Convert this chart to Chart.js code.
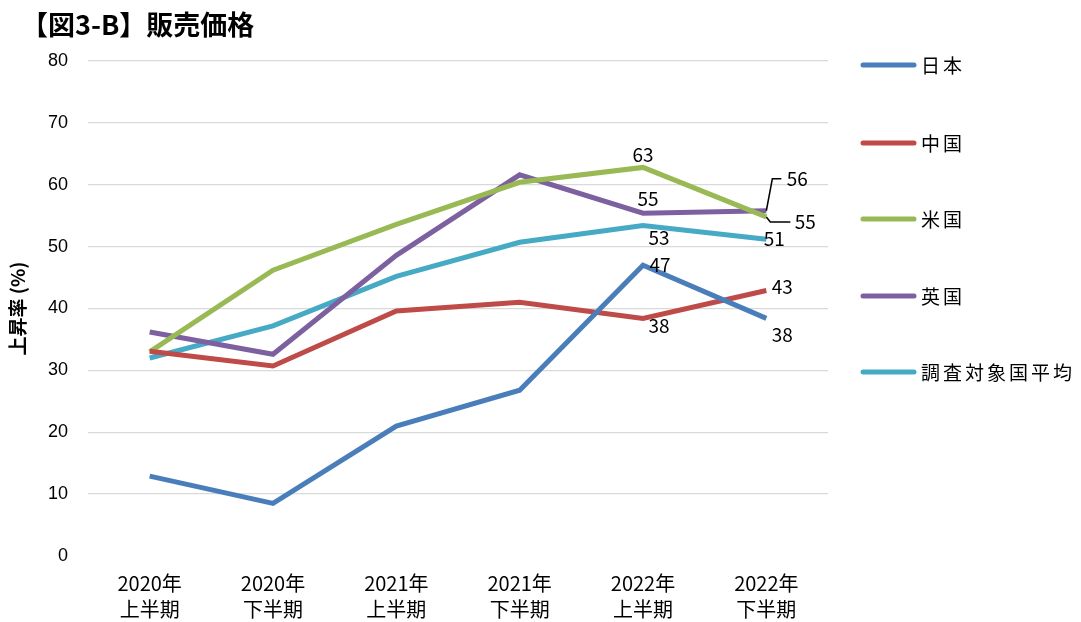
<!DOCTYPE html>
<html lang="ja">
<head>
<meta charset="UTF-8">
<title>販売価格</title>
<script src="https://cdn.jsdelivr.net/npm/chart.js"></script>
<style>
    body { margin: 0; background: #ffffff; }
    #wrap { width: 1081px; height: 622px; }
</style>
</head>
<body>
<div id="wrap"><canvas id="chart" width="1081" height="622"></canvas></div>
<script>
// data
const periods = [['2020年', '上半期'], ['2020年', '下半期'], ['2021年', '上半期'], ['2021年', '下半期'], ['2022年', '上半期'], ['2022年', '下半期']];
const japan   = [12.9, 8.5, 21.0, 26.8, 47.0, 38.4];
const china   = [33.1, 30.7, 39.6, 41.0, 38.4, 42.9];
const usa     = [33.0, 46.2, 53.6, 60.4, 62.8, 54.8];
const uk      = [36.2, 32.6, 48.6, 61.6, 55.4, 55.8];
const average = [32.0, 37.2, 45.2, 50.7, 53.4, 51.2];
const seriesNames = ['日本', '中国', '米国', '英国', '調査対象国平均'];
const yTicks = [0, 10, 20, 30, 40, 50, 60, 70, 80];

const colors = ['#4a7ebb', '#be4b48', '#98b954', '#7d60a0', '#46aac5'];
const JP = '"Noto Sans CJK JP", "Noto Sans", sans-serif';

// label placement for the last two points: [dataset, index, dx, dy, leader]
const labelSpots = [
    [2, 4, 0, -13, null],
    [3, 4, 5, -14, null],
    [4, 4, 16, 12, null],
    [0, 4, 17, 0, null],
    [1, 4, 16, 7, null],
    [3, 5, 31, -32, [[0, 0], [6, -32], [15, -32]]],
    [2, 5, 39, 5, [[0, 0], [4, 5], [24, 5]]],
    [4, 5, 8, 0, null],
    [1, 5, 16, -4, null],
    [0, 5, 16, 16, null]
];

const extras = {
    id: 'extras',
    afterDraw(chart) {
        const ctx = chart.ctx;
        ctx.save();
        // title
        ctx.fillStyle = '#000';
        ctx.font = 'bold 27px ' + JP;
        ctx.textAlign = 'left';
        ctx.textBaseline = 'middle';
        ctx.fillText('【図3-B】販売価格', 21, 25);

        // legend
        ctx.font = '19px ' + JP;
        ctx.letterSpacing = '3px';
        const legendY = [65, 143, 219, 296, 372];
        seriesNames.forEach((name, i) => {
            ctx.strokeStyle = colors[i];
            ctx.lineWidth = 5;
            ctx.lineCap = 'round';
            ctx.beginPath();
            ctx.moveTo(863, legendY[i]);
            ctx.lineTo(914, legendY[i]);
            ctx.stroke();
            ctx.fillStyle = '#000';
            ctx.fillText(name, 921, legendY[i] + 1);
        });
        ctx.letterSpacing = '0px';

        // data labels
        ctx.font = '19px ' + JP;
        ctx.textAlign = 'center';
        labelSpots.forEach(([ds, idx, dx, dy, leader]) => {
            const pt = chart.getDatasetMeta(ds).data[idx];
            const v = chart.data.datasets[ds].data[idx];
            if (leader) {
                ctx.strokeStyle = '#000';
                ctx.lineWidth = 1.5;
                ctx.lineCap = 'butt';
                ctx.beginPath();
                leader.forEach(([lx, ly], k) => {
                    if (k === 0) ctx.moveTo(pt.x + lx, pt.y + ly);
                    else ctx.lineTo(pt.x + lx, pt.y + ly);
                });
                ctx.stroke();
            }
            ctx.fillStyle = '#000';
            ctx.fillText(String(Math.round(v)), pt.x + dx, pt.y + dy);
        });
        ctx.restore();
    }
};

const allSeries = [japan, china, usa, uk, average];

new Chart(document.getElementById('chart'), {
    type: 'line',
    data: {
        labels: periods,
        datasets: allSeries.map((vals, i) => ({
            label: seriesNames[i],
            data: vals,
            borderColor: colors[i],
            backgroundColor: colors[i],
            borderWidth: 5,
            pointRadius: 0,
            pointHoverRadius: 0,
            tension: 0,
            fill: false
        }))
    },
    options: {
        responsive: false,
        animation: false,
        layout: { padding: { top: 61, right: 253, left: 0, bottom: 0 } },
        plugins: {
            legend: { display: false },
            title: { display: false },
            tooltip: { enabled: false }
        },
        scales: {
            x: {
                offset: true,
                grid: { display: false },
                border: { display: false },
                ticks: {
                    color: '#000',
                    font: { family: JP, size: 20, lineHeight: 1.3 },
                    padding: 6,
                    maxRotation: 0
                },
                afterFit(scale) { scale.height = 66; }
            },
            y: {
                min: 0,
                max: 80,
                afterBuildTicks(scale) { scale.ticks = yTicks.map(v => ({ value: v })); },
                grid: {
                    color: (c) => c.tick && c.tick.value === 0 ? 'rgba(0,0,0,0)' : '#d9d9d9',
                    lineWidth: 1.3,
                    drawTicks: false
                },
                border: { display: false },
                ticks: {
                    color: '#000',
                    font: { family: '"Liberation Sans", Arial, sans-serif', size: 18 },
                    padding: 20
                },
                title: {
                    display: true,
                    text: '上昇率 (%)',
                    color: '#000',
                    font: { family: JP, size: 19, weight: 'bold' },
                    padding: { top: 6, bottom: 0 }
                },
                afterFit(scale) { scale.width = 88; }
            }
        }
    },
    plugins: [extras]
});
</script>
</body>
</html>
